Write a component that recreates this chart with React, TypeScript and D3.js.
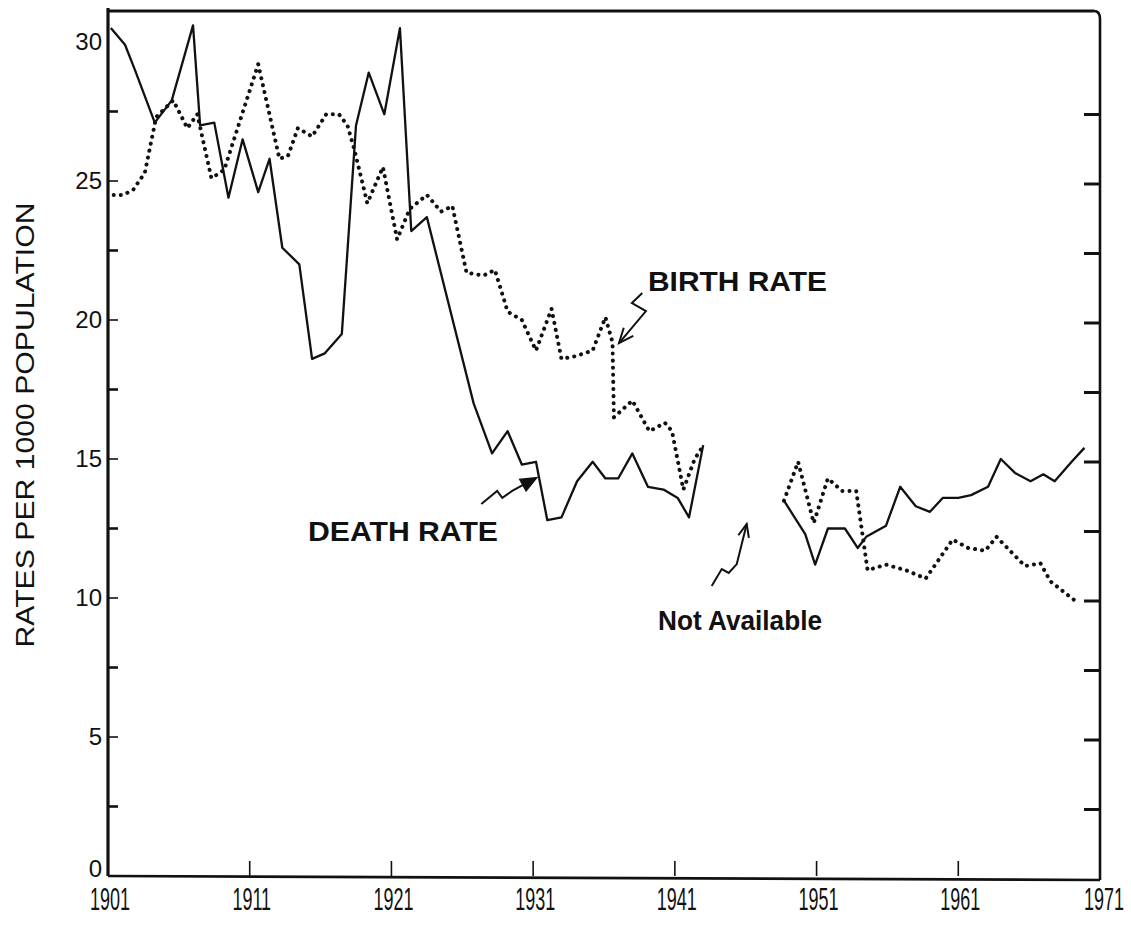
import * as d3 from "d3";

// death rate per 1000 (gap 1943-1948 not available)
const deathYears1 = [1901.2, 1902.2, 1902.9, 1904.3, 1905.5, 1907.0, 1907.5, 1908.5, 1909.5, 1910.5, 1911.6, 1912.4, 1913.3, 1914.5, 1915.4, 1916.3, 1917.5, 1918.5, 1919.4, 1920.5, 1921.6, 1922.4, 1923.5, 1926.8, 1928.1, 1929.2, 1930.2, 1931.2, 1932.0, 1933.0, 1934.1, 1935.2, 1936.1, 1937.0, 1938.0, 1939.1, 1940.2, 1941.2, 1942.0, 1943.0];
const deathRate1 = [30.5, 29.9, 29.0, 27.1, 27.9, 30.6, 27.0, 27.1, 24.4, 26.5, 24.6, 25.8, 22.6, 22.0, 18.6, 18.8, 19.5, 27.0, 28.9, 27.4, 30.5, 23.2, 23.7, 17.0, 15.2, 16.0, 14.8, 14.9, 12.8, 12.9, 14.2, 14.9, 14.3, 14.3, 15.2, 14.0, 13.9, 13.6, 12.9, 15.5];
const deathYears2 = [1948.7, 1950.2, 1950.9, 1951.8, 1953.0, 1953.9, 1954.5, 1955.9, 1956.9, 1958.0, 1959.0, 1959.9, 1961.0, 1961.9, 1963.1, 1964.0, 1965.0, 1966.1, 1967.0, 1967.8, 1969.0, 1969.9];
const deathRate2 = [13.5, 12.3, 11.2, 12.5, 12.5, 11.8, 12.2, 12.6, 14.0, 13.3, 13.1, 13.6, 13.6, 13.7, 14.0, 15.0, 14.5, 14.2, 14.45, 14.2, 14.9, 15.4];

// birth rate per 1000
const birthYears1 = [1901.4, 1902.1, 1902.8, 1903.6, 1904.4, 1905.6, 1906.6, 1907.3, 1908.3, 1909.2, 1911.6, 1913.1, 1913.7, 1914.4, 1915.4, 1916.4, 1917.3, 1917.9, 1918.4, 1919.3, 1920.4, 1921.4, 1922.3, 1923.5, 1924.5, 1925.3, 1926.3, 1927.5, 1928.3, 1929.2, 1930.2, 1931.2, 1932.3, 1933.0, 1934.0, 1935.2, 1936.1, 1936.6, 1936.7, 1938.0, 1939.2, 1940.3, 1940.8, 1941.6, 1942.4, 1942.9];
const birthRate1 = [24.5, 24.5, 24.7, 25.3, 27.3, 27.9, 26.9, 27.4, 25.1, 25.4, 29.2, 25.8, 25.9, 26.9, 26.6, 27.4, 27.4, 27.0, 26.1, 24.2, 25.5, 22.9, 24.0, 24.5, 23.9, 24.1, 21.7, 21.6, 21.8, 20.3, 20.0, 18.9, 20.4, 18.6, 18.7, 18.9, 20.1, 19.2, 16.5, 17.1, 16.0, 16.3, 16.0, 13.9, 15.0, 15.4];
const birthYears2 = [1948.7, 1949.7, 1950.8, 1951.8, 1952.8, 1953.8, 1954.6, 1955.9, 1957.3, 1958.7, 1960.6, 1961.7, 1962.9, 1963.7, 1965.7, 1966.8, 1967.5, 1969.5];
const birthRate2 = [13.5, 14.9, 12.7, 14.3, 13.85, 13.85, 11.0, 11.2, 11.0, 10.7, 12.1, 11.8, 11.7, 12.2, 11.15, 11.25, 10.6, 9.8];

const xLabels = ["1901", "1911", "1921", "1931", "1941", "1951", "1961", "1971"];
const yLabels = ["0", "5", "10", "15", "20", "25", "30"];

// hand-drawn annotation arrows, in (year, rate)
const birthArrow: [number, number][] = [[1938.7, 20.97], [1937.97, 20.61], [1938.96, 20.32], [1937.06, 19.17]];
const deathArrow: [number, number][] = [[1927.34, 13.38], [1928.46, 13.85], [1928.82, 13.6], [1929.52, 13.85], [1931.21, 14.32]];
const naArrow: [number, number][] = [[1943.6, 10.43], [1944.31, 11.04], [1944.8, 10.9], [1945.37, 11.22], [1945.72, 11.94], [1946.07, 12.66]];

const INK = "#111";
const FONT = "'Liberation Sans', Arial, sans-serif";

function zip(a: number[], b: number[]): [number, number][] {
  return a.map((v, i) => [v, b[i]]);
}

export default function App() {
  const W = 1131;
  const H = 941;
  const left = 108, right = 1100, top = 11, bottom = 876;

  const x = d3.scaleLinear().domain([1901, 1971]).range([left, right]);
  const y = d3.scaleLinear().domain([0, 30]).range([bottom, 42]);
  const line = d3.line<[number, number]>().x((d) => x(d[0])).y((d) => y(d[1]));

  const minorTicks = d3.range(2.5, 30, 2.5);

  const head = (pts: [number, number][], len: number, filled: boolean) => {
    const a = pts[pts.length - 2], b = pts[pts.length - 1];
    const x1 = x(a[0]), y1 = y(a[1]), x2 = x(b[0]), y2 = y(b[1]);
    const ang = Math.atan2(y2 - y1, x2 - x1);
    const p1 = [x2 - len * Math.cos(ang - 0.4), y2 - len * Math.sin(ang - 0.4)];
    const p2 = [x2 - len * Math.cos(ang + 0.4), y2 - len * Math.sin(ang + 0.4)];
    const d = filled
      ? `M${p1[0]},${p1[1]}L${x2},${y2}L${p2[0]},${p2[1]}Z`
      : `M${p1[0]},${p1[1]}L${x2},${y2}L${p2[0]},${p2[1]}`;
    return <path d={d} fill={filled ? INK : "none"} stroke={INK} strokeWidth={2} />;
  };

  return (
    <svg width={W} height={H} style={{ position: "absolute", left: 0, top: 0, background: "#fff" }}>
      <rect width={W} height={H} fill="#fff" />

      {/* frame */}
      <line x1={left} y1={top - 3} x2={left} y2={bottom} stroke={INK} strokeWidth={3.2} />
      <line x1={left} y1={top} x2={right - 6} y2={top} stroke={INK} strokeWidth={3} />
      <path d={`M${right - 6},${top} Q${right},${top} ${right},${top + 8} L${right},${bottom + 4}`} fill="none" stroke={INK} strokeWidth={2.6} />
      <line x1={left} y1={bottom} x2={right} y2={bottom + 4} stroke={INK} strokeWidth={2.6} />

      {/* left ticks (inward) */}
      {minorTicks.concat([0]).map((t) => (
        <line key={`l${t}`} x1={left} x2={left + 10} y1={y(t)} y2={y(t)} stroke={INK} strokeWidth={t % 5 === 0 ? 1.6 : 2.6} />
      ))}
      {/* right ticks (inward) */}
      {minorTicks.map((t) => (
        <line key={`r${t}`} x1={right - 16} x2={right} y1={y(t) + 3} y2={y(t) + 3} stroke={INK} strokeWidth={3} />
      ))}
      {/* bottom ticks */}
      {xLabels.slice(1, -1).map((l) => (
        <line key={`b${l}`} x1={x(+l)} x2={x(+l)} y1={bottom} y2={bottom - 15} stroke={INK} strokeWidth={1.6} />
      ))}

      {/* y labels */}
      {yLabels.map((l) => (
        <text key={`yl${l}`} x={left - 6} y={y(+l) + (l === "0" ? 1 : 8)} textAnchor="end" fontFamily={FONT} fontSize={24} fill={INK}>
          {l}
        </text>
      ))}
      {/* x labels, narrow hand-lettered digits */}
      {xLabels.map((l) => (
        <text key={`xl${l}`} transform={`translate(${x(+l) + (l === "1971" ? 4 : 2)},910) scale(0.58,1)`} textAnchor="middle"
          fontFamily={FONT} fontSize={31} fill={INK}>
          {l}
        </text>
      ))}

      <text transform="translate(34,425) rotate(-90)" textAnchor="middle" fontFamily={FONT} fontSize={25}
        textLength={445} lengthAdjust="spacingAndGlyphs" fill={INK}>
        RATES PER 1000 POPULATION
      </text>

      {/* series */}
      {[zip(deathYears1, deathRate1), zip(deathYears2, deathRate2)].map((s, i) => (
        <path key={`d${i}`} d={line(s) ?? ""} fill="none" stroke={INK} strokeWidth={2.3} strokeLinejoin="round" />
      ))}
      {[zip(birthYears1, birthRate1), zip(birthYears2, birthRate2)].map((s, i) => (
        <path key={`b${i}`} d={line(s) ?? ""} fill="none" stroke={INK} strokeWidth={4}
          strokeDasharray="0.1 7" strokeLinecap="round" />
      ))}

      {/* annotations */}
      <text x={648} y={291} fontFamily={FONT} fontSize={28} fontWeight="bold" textLength={179}
        lengthAdjust="spacingAndGlyphs" fill={INK}>BIRTH RATE</text>
      <text x={308} y={541} fontFamily={FONT} fontSize={28} fontWeight="bold" textLength={190}
        lengthAdjust="spacingAndGlyphs" fill={INK}>DEATH RATE</text>
      <text x={658} y={630} fontFamily={FONT} fontSize={27} fontWeight="bold" textLength={164}
        lengthAdjust="spacingAndGlyphs" fill={INK}>Not Available</text>

      {[birthArrow, deathArrow, naArrow].map((a, i) => (
        <path key={`a${i}`} d={line(a) ?? ""} fill="none" stroke={INK} strokeWidth={2} />
      ))}
      {head(birthArrow, 16, false)}
      {head(deathArrow, 16, true)}
      {head(naArrow, 14, false)}
    </svg>
  );
}
